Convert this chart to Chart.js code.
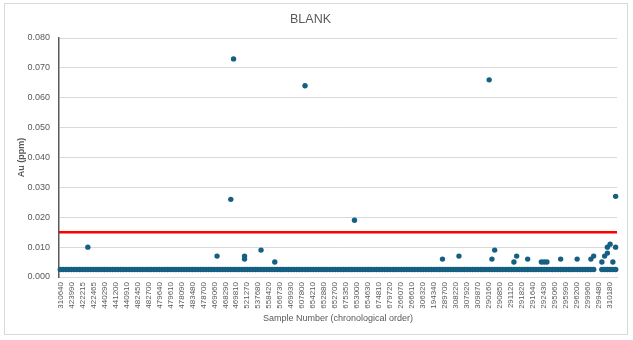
<!DOCTYPE html>
<html><head><meta charset="utf-8">
<script src="https://cdn.jsdelivr.net/npm/chart.js@4.4.1/dist/chart.umd.min.js"></script>
<style>
html,body{margin:0;padding:0;background:#fff;}
#wrap{position:relative;width:633px;height:340px;}
#frame{position:absolute;left:4px;top:3px;width:622px;height:330px;border:1px solid #d9d9d9;pointer-events:none;}
canvas{position:absolute;left:0;top:0;}
</style></head><body>
<div id="wrap"><canvas id="c" width="633" height="340"></canvas><div id="frame"></div></div>
<script>
// Visible category labels (every 4th sample in chronological order)
const sampleTickLabels = [
  '310640','423990','422215','422465','440290','441200','440910','482450','482700','479640',
  '479610','478090','483480','478700','469060','468290','469810','521270','537680','558420',
  '566730','469930','607800','654210','652880','652700','675350','653000','654630','674810',
  '679720','266070','266610','306320','194340','289700','308220','307920','309870','290160',
  '290850','291120','291820','291640','292430','295060','295990','296200','299960','299480',
  '310180'
];
const labelEvery = 4;

// Below-detection results (reported at 0.0025 ppm) for each sample position; null = no value
const lowValues = [
  0.0025,0.0025,0.0025,0.0025,0.0025,0.0025,0.0025,0.0025,0.0025,0.0025, // 0
  0.0025,0.0025,0.0025,0.0025,0.0025,0.0025,0.0025,0.0025,0.0025,0.0025, // 10
  0.0025,0.0025,0.0025,0.0025,0.0025,0.0025,0.0025,0.0025,0.0025,0.0025, // 20
  0.0025,0.0025,0.0025,0.0025,0.0025,0.0025,0.0025,0.0025,0.0025,0.0025, // 30
  0.0025,0.0025,0.0025,0.0025,0.0025,0.0025,0.0025,0.0025,0.0025,0.0025, // 40
  0.0025,0.0025,0.0025,0.0025,0.0025,0.0025,0.0025,0.0025,0.0025,0.0025, // 50
  0.0025,0.0025,0.0025,0.0025,0.0025,0.0025,0.0025,0.0025,0.0025,0.0025, // 60
  0.0025,0.0025,0.0025,0.0025,0.0025,0.0025,0.0025,0.0025,0.0025,0.0025, // 70
  0.0025,0.0025,0.0025,0.0025,0.0025,0.0025,0.0025,0.0025,0.0025,0.0025, // 80
  0.0025,0.0025,0.0025,0.0025,0.0025,0.0025,0.0025,0.0025,0.0025,0.0025, // 90
  0.0025,0.0025,0.0025,0.0025,0.0025,0.0025,0.0025,0.0025,0.0025,0.0025, // 100
  0.0025,0.0025,0.0025,0.0025,0.0025,0.0025,0.0025,0.0025,0.0025,0.0025, // 110
  0.0025,0.0025,0.0025,0.0025,0.0025,0.0025,0.0025,0.0025,0.0025,0.0025, // 120
  0.0025,0.0025,0.0025,0.0025,0.0025,0.0025,0.0025,0.0025,0.0025,0.0025, // 130
  0.0025,0.0025,0.0025,0.0025,0.0025,0.0025,0.0025,0.0025,0.0025,0.0025, // 140
  0.0025,0.0025,0.0025,0.0025,0.0025,0.0025,0.0025,0.0025,0.0025,0.0025, // 150
  0.0025,0.0025,0.0025,0.0025,0.0025,0.0025,0.0025,0.0025,0.0025,0.0025, // 160
  0.0025,0.0025,0.0025,0.0025,0.0025,0.0025,0.0025,0.0025,0.0025,0.0025, // 170
  0.0025,0.0025,0.0025,0.0025,0.0025,0.0025,0.0025,0.0025,0.0025,0.0025, // 180
  0.0025,0.0025,0.0025,0.0025,0.0025,null,  null,  0.0025,0.0025,0.0025, // 190
  0.0025,0.0025,0.0025                                                  // 200
];

// Detected Au (ppm) results: sample position and value
const detectIdx    = [10,    57,    62,    63,    67,    67,    73,    78,    89,    107,
                      139,   145,   156,   157,   158,   165,   166,   170,   175,   176,
                      177,   182,   188,   193,   194,   197,   198,   199,   199,   200,
                      201,   202,   202];
const detectValues = [0.010, 0.007, 0.026, 0.073, 0.007, 0.006, 0.009, 0.005, 0.064, 0.019,
                      0.006, 0.007, 0.066, 0.006, 0.009, 0.005, 0.007, 0.006, 0.005, 0.005,
                      0.005, 0.006, 0.006, 0.006, 0.007, 0.005, 0.007, 0.008, 0.010, 0.011,
                      0.005, 0.027, 0.010];

const blankLimit = 0.015;
const yMin = 0, yMax = 0.08, yStep = 0.01;

const F = "'Liberation Sans', Arial, sans-serif";
const n = lowValues.length;

new Chart(document.getElementById('c').getContext('2d'), {
  type: 'scatter',
  data: {
    datasets: [
      {
        label: 'Limit', type: 'line',
        data: [{x: -0.5, y: blankLimit}, {x: n - 0.5, y: blankLimit}],
        borderColor: '#ff0000', borderWidth: 2.5, pointRadius: 0, fill: false, clip: false, order: 3
      },
      {
        label: 'Below detection',
        data: lowValues.map((v, i) => ({x: i, y: v})),
        backgroundColor: '#156082', borderWidth: 0, pointRadius: 2.8, clip: false, order: 1
      },
      {
        label: 'Au (ppm)',
        data: detectIdx.map((x, k) => ({x: x, y: detectValues[k]})),
        backgroundColor: '#156082', borderWidth: 0, pointRadius: 2.7, clip: false, order: 2
      }
    ]
  },
  options: {
    responsive: false, animation: false, devicePixelRatio: 1,
    layout: {padding: {left: 4, right: 16, top: 0, bottom: 7}},
    plugins: {
      legend: {display: false}, tooltip: {enabled: false},
      title: {display: true, text: 'BLANK', color: '#595959',
        font: {family: F, size: 12.5, weight: 'normal'}, padding: {top: 12, bottom: 11}}
    },
    scales: {
      x: {
        type: 'linear', min: -0.5, max: n - 0.5, bounds: 'data',
        grid: {display: false, drawTicks: false},
        border: {display: true, color: '#d9d9d9'},
        afterBuildTicks: s => { s.ticks = sampleTickLabels.map((_, j) => ({value: j * labelEvery})); },
        ticks: {autoSkip: false, maxRotation: 90, minRotation: 90, padding: 5, color: '#595959',
          font: {family: F, size: 8}, callback: (v, i) => sampleTickLabels[i]},
        title: {display: true, text: 'Sample Number (chronological order)', color: '#595959',
          font: {family: F, size: 9}, padding: {top: 0, bottom: 9}},
        afterFit: s => { s.height = 56; }
      },
      y: {
        min: yMin, max: yMax,
        ticks: {stepSize: yStep, padding: 9, color: '#595959', font: {family: F, size: 9},
          callback: v => v.toFixed(3)},
        grid: {color: '#d9d9d9', drawTicks: false},
        border: {display: true, color: '#595959', width: 1.5},
        title: {display: true, text: 'Au (ppm)', color: '#595959',
          font: {family: F, size: 9, weight: 'bold'}, padding: {top: 12.6, bottom: 0}},
        afterFit: s => { s.width = 55; }
      }
    }
  }
});
</script>
</body></html>
